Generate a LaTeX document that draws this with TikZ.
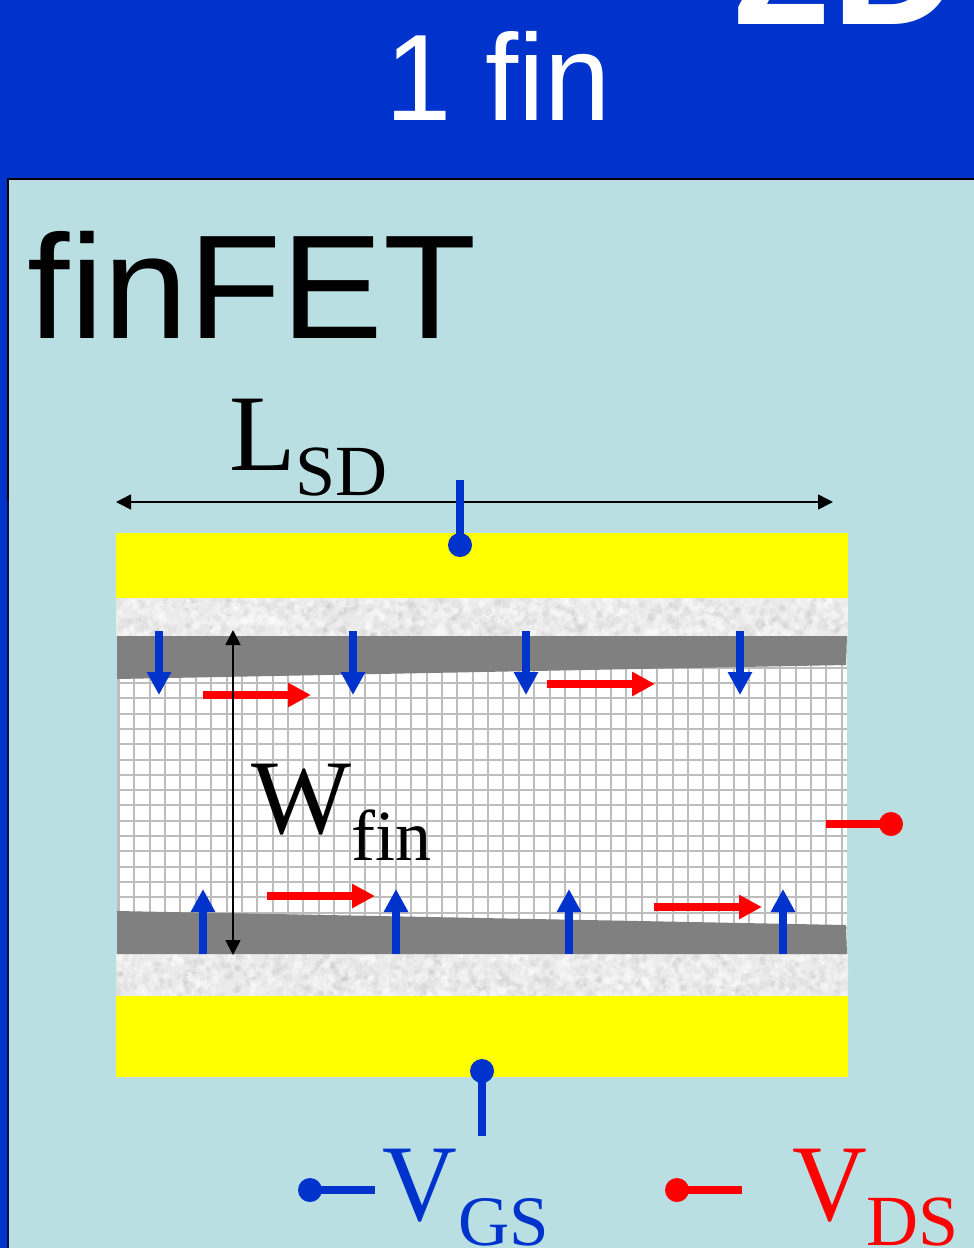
\documentclass[tikz,border=0pt]{standalone}
\usepackage{fontspec}
\setmainfont{Liberation Serif}
\newfontfamily\hv{Liberation Sans}
\usetikzlibrary{arrows.meta}
\definecolor{hdr}{HTML}{0033CC}
\definecolor{panel}{HTML}{B9DFE2}
\definecolor{fieldb}{HTML}{0033CC}
\definecolor{gategray}{HTML}{808080}
\definecolor{gridg}{HTML}{BDBDBD}
\definecolor{oxide}{HTML}{EBEBEB}
\definecolor{metal}{HTML}{FFFF00}
\definecolor{pure}{HTML}{FF0000}
\definecolor{navy}{HTML}{00104D}
\tikzset{
  bluearrow/.style={draw=fieldb,line width=8pt,-{Triangle[width=23pt,length=23pt]}},
  redarrow/.style={draw=pure,line width=7.5pt,-{Triangle[width=23pt,length=23pt]}},
  dimarrow/.style={draw=black,line width=1.6pt,{Triangle[width=15pt,length=15pt]}-{Triangle[width=15pt,length=15pt]}},
  pinblue/.style={draw=fieldb,line width=8pt},
  pinred/.style={draw=pure,line width=8pt},
  dotblue/.style={circle,fill=fieldb,minimum size=24pt,inner sep=0pt},
  dotred/.style={circle,fill=pure,minimum size=24pt,inner sep=0pt},
  lbl/.style={inner sep=0pt,anchor=base west},
  hlbl/.style={inner sep=0pt,anchor=base west,font=\hv},
  meshline/.style={draw=gridg,line width=2.4pt}
}
\newcommand{\bigtxt}[1]{\fontsize{#1}{#1}\selectfont}
\begin{document}
\begin{tikzpicture}[x=1pt,y=-1pt]
\useasboundingbox (0,0) rectangle (974,1248);
\begin{scope}
\clip (0,0) rectangle (974,1248);
\fill[hdr] (0,0) rectangle (974,1248);
\fill[panel] (9,179.5) rectangle (1000,1300);
\draw[navy,line width=2pt] (8.3,500) -- (8.3,1300);
\draw[black,line width=2pt] (8.3,500) -- (8.3,179) -- (1000,179);
\node[hlbl,text=white] (twod) at (732,24) {\bfseries\bigtxt{178}2D};
\node[hlbl,text=white,xscale=0.97] (fin) at (385.5,120) {\bigtxt{123}1 fin};
\node[hlbl,xscale=1.03] (title) at (27.5,338) {\bigtxt{148}finFET};
% gate metal
\fill[metal] (116,533) rectangle (848,598);
\fill[metal] (116,996) rectangle (848,1077);
% oxide
\fill[oxide] (116,598) rectangle (848,636);
\fill[oxide] (116,954) rectangle (848,996);
\begin{scope}
\clip (116,598) rectangle (848,636) (116,954) rectangle (848,996);
\pgfmathsetseed{4711}
\foreach \i in {1,...,1400}{
  \pgfmathsetmacro{\px}{116+732*rnd}
  \pgfmathsetmacro{\py}{rnd<0.47 ? 598+38*rnd : 954+42*rnd}
  \pgfmathsetmacro{\pr}{1.5+3*rnd}
  \fill[black!60!white,opacity=0.05] (\px,\py) circle[radius=\pr];
  \pgfmathsetmacro{\qx}{116+732*rnd}
  \pgfmathsetmacro{\qy}{rnd<0.47 ? 598+38*rnd : 954+42*rnd}
  \fill[white,opacity=0.35] (\qx,\qy) circle[radius=\pr];
}
\end{scope}
% channel with mesh
\fill[white] (117,636) rectangle (847,954);
\begin{scope}
\clip (117,636) rectangle (847,954);
\draw[meshline] (117,636) -- (117,954);
\foreach \i in {0,...,47}{
  \pgfmathsetmacro{\gx}{round(118.9+15.38*\i)+0.0}
  \draw[meshline] (\gx,636) -- (\gx,954);}
\foreach \i in {-2,...,18}{
  \pgfmathsetmacro{\gy}{round(683+15.3*\i)+0.0}
  \draw[meshline] (117,\gy) -- (847,\gy);}
\end{scope}
% gate-oxide inversion
\fill[gategray] (117,636) -- (847,636) -- (846,665) -- (117,679) -- cycle;
\fill[gategray] (117,911) -- (846,925) -- (847,954) -- (117,954) -- cycle;
% field arrows
\foreach \n/\x in {a/159,b/353,c/526,d/740}{
  \coordinate (dn\n s) at (\x,631); \coordinate (dn\n e) at (\x,695);
  \draw[bluearrow] (dn\n s) -- (dn\n e);
}
\foreach \n/\x in {a/203,b/396,c/569,d/783}{
  \coordinate (up\n s) at (\x,954); \coordinate (up\n e) at (\x,889);
  \draw[bluearrow] (up\n s) -- (up\n e);
}
\foreach \n/\x/\y in {a/203/695,b/547/684,c/267/896,d/654/907}{
  \coordinate (rd\n s) at (\x,\y); \coordinate (rd\n e) at (\x+108,\y);
  \draw[redarrow] (rd\n s) -- (rd\n e);
}
% dimensions
\coordinate (lsdl) at (116,502); \coordinate (lsdr) at (833,502);
\draw[dimarrow] (lsdl) -- (lsdr);
\coordinate (wt) at (233,630); \coordinate (wb) at (233,955);
\draw[dimarrow] (wt) -- (wb);
% labels
\node[lbl] (lsd) at (229,470) {\bigtxt{109}L};
\node[lbl] (lsdsub) at (295,495) {\bigtxt{72}SD};
\node[lbl] (wf) at (251,833) {\bigtxt{106}W};
\node[lbl] (wfsub) at (351,860) {\bigtxt{72}fin};
\node[lbl,text=fieldb,xscale=0.95] (vg) at (382,1220) {\bigtxt{109}V};
\node[lbl,text=fieldb] (vgsub) at (458,1245) {\bigtxt{71}GS};
\node[lbl,text=pure,xscale=0.95] (vd) at (792,1220) {\bigtxt{109}V};
\node[lbl,text=pure] (vdsub) at (866,1245) {\bigtxt{72}DS};
% pins
\node[dotblue] (gt) at (460,545) {};
\coordinate (gte) at (460,480);
\draw[pinblue] (gte) -- (gt.center);
\node[dotblue] (gb) at (482,1071) {};
\coordinate (gbe) at (482,1136);
\draw[pinblue] (gb.center) -- (gbe);
\node[dotred] (dr) at (891,824) {};
\coordinate (dre) at (826,824);
\draw[pinred] (dre) -- (dr.center);
\node[dotblue] (lb) at (310,1190) {};
\coordinate (lbe) at (375,1190);
\draw[pinblue] (lb.center) -- (lbe);
\node[dotred] (lr) at (677,1190) {};
\coordinate (lre) at (742,1190);
\draw[pinred] (lr.center) -- (lre);
\end{scope}
\end{tikzpicture}
\end{document}
